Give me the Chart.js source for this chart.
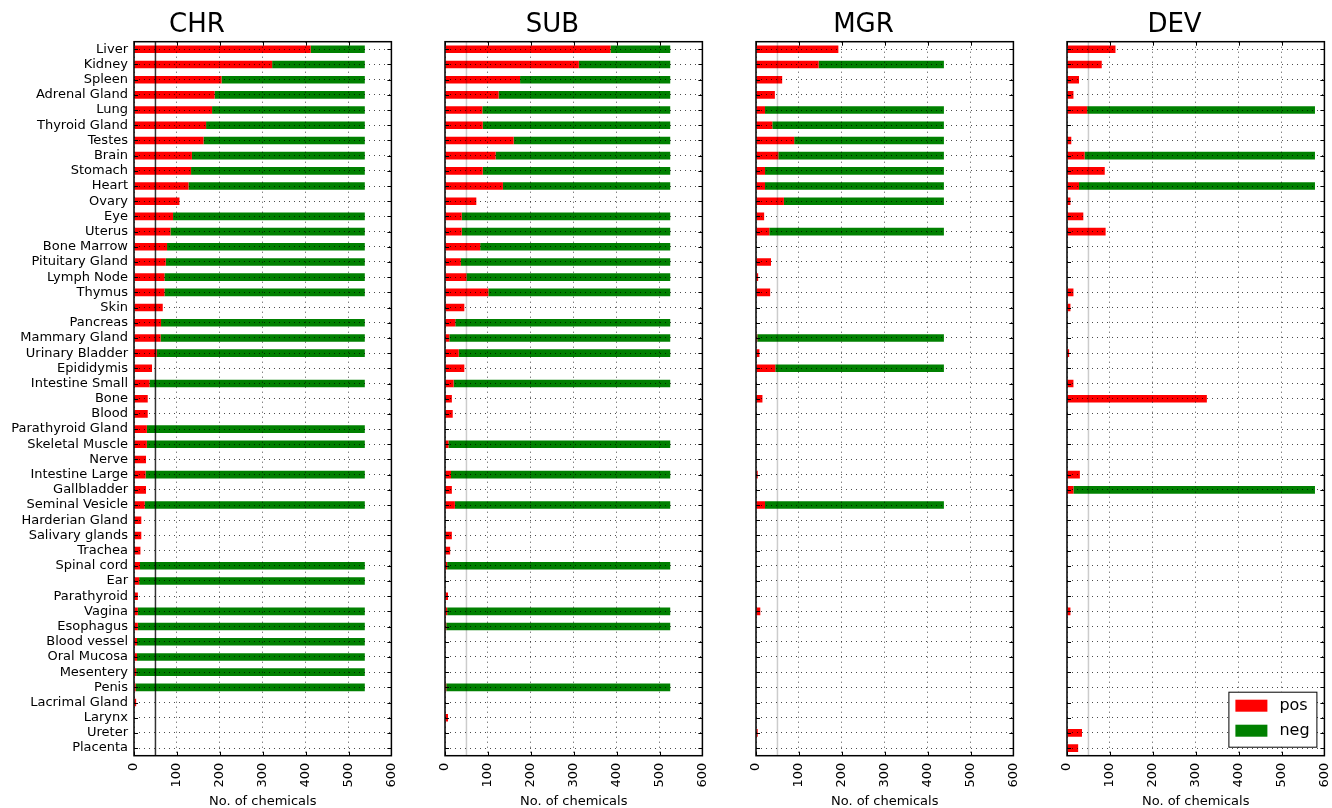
<!DOCTYPE html>
<html>
<head>
<meta charset="utf-8">
<script src="https://cdn.jsdelivr.net/npm/chart.js@4.4.1/dist/chart.umd.min.js"></script>
<style>
  html, body { margin: 0; padding: 0; background: #fff; overflow: hidden; }
  #wrap { position: relative; width: 1332px; height: 808px; overflow: hidden; }
  canvas { position: absolute; top: 0; }
</style>
</head>
<body>
<div id="wrap">
  <canvas id="chr" width="414" height="808" style="left:0px"></canvas>
  <canvas id="sub" width="325" height="808" style="left:400px"></canvas>
  <canvas id="mgr" width="325" height="808" style="left:711px"></canvas>
  <canvas id="dev" width="325" height="808" style="left:1022px"></canvas>
</div>
<script>
// tissues, top to bottom
const categories = ["Liver", "Kidney", "Spleen", "Adrenal Gland", "Lung", "Thyroid Gland", "Testes", "Brain",
    "Stomach", "Heart", "Ovary", "Eye", "Uterus", "Bone Marrow", "Pituitary Gland", "Lymph Node", "Thymus",
    "Skin", "Pancreas", "Mammary Gland", "Urinary Bladder", "Epididymis", "Intestine Small", "Bone", "Blood",
    "Parathyroid Gland", "Skeletal Muscle", "Nerve", "Intestine Large", "Gallbladder", "Seminal Vesicle",
    "Harderian Gland", "Salivary glands", "Trachea", "Spinal cord", "Ear", "Parathyroid", "Vagina",
    "Esophagus", "Blood vessel", "Oral Mucosa", "Mesentery", "Penis", "Lacrimal Gland", "Larynx", "Ureter",
    "Placenta"];

const chrPos = [412, 322, 204, 188, 182, 168, 162, 135, 133, 127, 106, 91, 85, 77, 74, 71, 71, 67, 63, 62, 53, 42,
    36, 32, 32, 30, 30, 28, 27, 28, 25, 17, 17, 15, 14, 12, 9, 9, 9, 7, 7, 5, 4, 5, 0, 0, 0];
const chrNeg = [126, 216, 334, 350, 356, 370, 376, 403, 405, 411, 0, 447, 453, 461, 464, 467, 467, 0, 475, 476, 485, 0,
    502, 0, 0, 508, 508, 0, 511, 0, 513, 0, 0, 0, 524, 526, 0, 529, 529, 531, 531, 533, 534, 0, 0, 0, 0];

const subPos = [386, 312, 175, 125, 87, 88, 160, 118, 88, 135, 73, 39, 39, 82, 37, 50, 101, 45, 24, 10, 32, 45,
    20, 16, 18, 0, 8, 0, 14, 16, 23, 0, 16, 12, 5, 0, 7, 5, 3, 0, 0, 0, 3, 0, 7, 0, 0];
const subNeg = [139, 213, 350, 400, 438, 437, 365, 407, 437, 390, 0, 486, 486, 443, 488, 475, 424, 0, 501, 515, 493, 0,
    505, 0, 0, 0, 517, 0, 511, 0, 502, 0, 0, 0, 520, 0, 0, 520, 522, 0, 0, 0, 522, 0, 0, 0, 0];

const mgrPos = [192, 146, 61, 44, 21, 38, 89, 52, 21, 21, 65, 19, 31, 0, 35, 5, 33, 0, 0, 3, 8, 45,
    0, 15, 0, 0, 0, 0, 4, 0, 21, 0, 0, 0, 0, 0, 0, 10, 0, 0, 0, 0, 0, 0, 0, 4, 0];
const mgrNeg = [0, 292, 0, 0, 417, 400, 349, 386, 417, 417, 373, 0, 407, 0, 0, 0, 0, 0, 0, 435, 0, 393,
    0, 0, 0, 0, 0, 0, 0, 0, 417, 0, 0, 0, 0, 0, 0, 0, 0, 0, 0, 0, 0, 0, 0, 0, 0];

const devPos = [113, 81, 28, 15, 47, 0, 10, 41, 88, 28, 8, 38, 90, 0, 0, 0, 15, 8, 0, 0, 5, 0,
    15, 326, 0, 0, 0, 0, 30, 15, 0, 0, 0, 0, 0, 0, 0, 8, 0, 0, 0, 0, 0, 0, 0, 35, 26];
const devNeg = [0, 0, 0, 0, 531, 0, 0, 537, 0, 550, 0, 0, 0, 0, 0, 0, 0, 0, 0, 0, 0, 0,
    0, 0, 0, 0, 0, 0, 0, 563, 0, 0, 0, 0, 0, 0, 0, 0, 0, 0, 0, 0, 0, 0, 0, 0, 0];

const xTickValues = [0, 100, 200, 300, 400, 500, 600];
const seriesLabels = ["pos", "neg"];
const refValue = 50;

Chart.defaults.font.family = "'DejaVu Sans', sans-serif";
Chart.defaults.color = "#000";

// axes box, inward tick marks and the x = 50 line
const framePlugin = {
    id: "frame",
    afterDatasetsDraw(chart, args, opts) {
        const { ctx, chartArea: a } = chart;
        const x = chart.scales.x.getPixelForValue(refValue);
        ctx.save();
        ctx.strokeStyle = opts.refColor;
        ctx.lineWidth = 1.5;
        ctx.beginPath();
        ctx.moveTo(x, a.top);
        ctx.lineTo(x, a.bottom);
        ctx.stroke();
        ctx.restore();
    },
    afterDraw(chart) {
        const { ctx, chartArea: a, scales } = chart;
        ctx.save();
        ctx.strokeStyle = "#000";
        ctx.lineWidth = 1;
        ctx.beginPath();
        scales.y.ticks.forEach((t, i) => {
            const y = Math.round(scales.y.getPixelForTick(i)) + 0.5;
            ctx.moveTo(a.left, y); ctx.lineTo(a.left + 4, y);
            ctx.moveTo(a.right, y); ctx.lineTo(a.right - 4, y);
        });
        scales.x.ticks.forEach((t, i) => {
            const x = Math.round(scales.x.getPixelForTick(i)) + 0.5;
            ctx.moveTo(x, a.top); ctx.lineTo(x, a.top + 4);
            ctx.moveTo(x, a.bottom); ctx.lineTo(x, a.bottom - 4);
        });
        ctx.stroke();
        ctx.lineWidth = 1.5;
        ctx.strokeRect(a.left, a.top, a.right - a.left, a.bottom - a.top);
        ctx.restore();
    }
};

// legend box in the lower right of the last panel
const boxLegend = {
    id: "boxLegend",
    afterDraw(chart, args, opts) {
        if (!opts.show) return;
        const { ctx, chartArea: a } = chart;
        const w = 88, h = 55;
        const x0 = a.right - 8 - w, y0 = a.bottom - 9 - h;
        ctx.save();
        ctx.fillStyle = "#fff";
        ctx.fillRect(x0, y0, w, h);
        ctx.strokeStyle = "#000";
        ctx.lineWidth = 1;
        ctx.strokeRect(x0 + 0.5, y0 + 0.5, w, h);
        ctx.font = "16px 'DejaVu Sans'";
        ctx.textBaseline = "middle";
        chart.data.datasets.forEach((ds, i) => {
            const cy = y0 + 14 + i * 25;
            ctx.fillStyle = ds.backgroundColor;
            ctx.fillRect(x0 + 7, cy - 6, 32, 12);
            ctx.fillStyle = "#000";
            ctx.fillText(ds.label, x0 + 51, cy);
        });
        ctx.restore();
    }
};

function makePanel(id, title, pos, neg, showLabels, refColor, showLegend) {
    new Chart(document.getElementById(id), {
        type: "bar",
        data: {
            labels: categories,
            datasets: [
                { label: seriesLabels[0], data: pos, backgroundColor: "#ff0000", borderWidth: 0,
                  barPercentage: 0.5, categoryPercentage: 1.0 },
                { label: seriesLabels[1], data: neg, backgroundColor: "#008000", borderWidth: 0,
                  barPercentage: 0.5, categoryPercentage: 1.0 },
            ],
        },
        options: {
            indexAxis: "y",
            responsive: false,
            animation: false,
            layout: { padding: { left: 0, right: 20, top: 0, bottom: 0 } },
            scales: {
                x: {
                    stacked: true,
                    min: 0,
                    max: 600,
                    afterBuildTicks: axis => { axis.ticks = xTickValues.map(v => ({ value: v })); },
                    afterFit: axis => { axis.height = 52.3; },
                    border: { display: false, dash: [1, 4] },
                    grid: { z: 1, color: "rgba(0,0,0,0.7)", lineWidth: 1, drawTicks: false },
                    ticks: { minRotation: 90, maxRotation: 90, padding: 7, font: { size: 13 } },
                    title: { display: true, text: "No. of chemicals", font: { size: 13, lineHeight: 1 }, padding: 0 },
                },
                y: {
                    stacked: true,
                    afterFit: axis => { axis.width = showLabels ? 134 : 45; },
                    border: { display: false, dash: [1, 4] },
                    grid: { z: 1, offset: false, color: "rgba(0,0,0,0.7)", lineWidth: 1, drawTicks: false },
                    ticks: { display: showLabels, autoSkip: false, padding: 6, font: { size: 13 } },
                },
            },
            plugins: {
                legend: { display: false },
                tooltip: { enabled: false },
                title: {
                    display: true,
                    text: title,
                    font: { size: 26, weight: "normal", lineHeight: 1 },
                    padding: { top: 12.5, bottom: 3.2 },
                },
                frame: { refColor: refColor },
                boxLegend: { show: showLegend },
            },
        },
        plugins: [framePlugin, boxLegend],
    });
}

makePanel("chr", "CHR", chrPos, chrNeg, true, "rgba(0,0,0,0.8)", false);
makePanel("sub", "SUB", subPos, subNeg, false, "rgba(0,0,0,0.2)", false);
makePanel("mgr", "MGR", mgrPos, mgrNeg, false, "rgba(0,0,0,0.2)", false);
makePanel("dev", "DEV", devPos, devNeg, false, "rgba(0,0,0,0.2)", true);
</script>
</body>
</html>
